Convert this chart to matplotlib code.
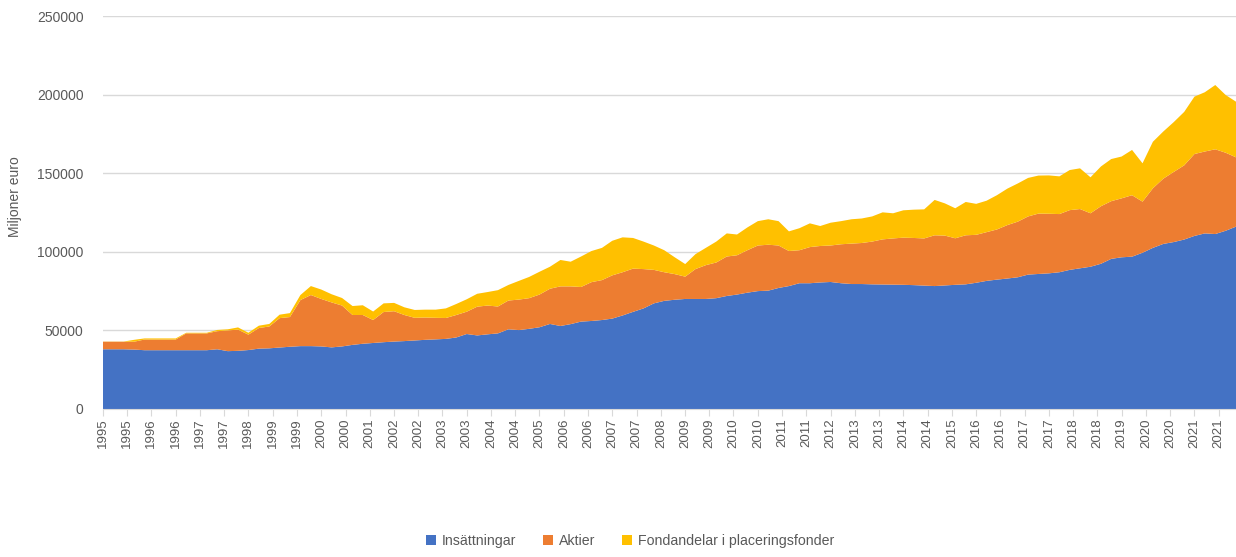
import numpy as np
import pandas as pd
import matplotlib
matplotlib.use("Agg")
import matplotlib.pyplot as plt

####################################
# Data (quarterly, thousands of millions of euro)

start = "1995-01-01"

insattningar = [
    38.0, 38.0, 38.0, 37.8, 37.4, 37.4, 37.4, 37.4, 37.4, 37.4,
    37.4, 38.0, 36.8, 37.0, 37.5, 38.4, 38.6, 39.1, 39.6, 40.0,
    40.0, 39.8, 39.2, 39.8, 40.8, 41.5, 42.0, 42.5, 42.9, 43.2,
    43.6, 44.0, 44.3, 44.6, 45.5, 47.7, 46.8, 47.5, 48.1, 50.7,
    50.2, 51.0, 52.0, 54.1, 52.8, 54.0, 55.6, 56.0, 56.6, 57.5,
    59.5, 61.8, 64.0, 67.2, 68.8, 69.5, 70.0, 70.0, 70.0, 70.5,
    71.9, 72.8, 74.0, 75.0, 75.3, 77.0, 78.2, 80.0, 80.0, 80.5,
    80.8, 80.0, 79.5, 79.5, 79.3, 79.2, 79.1, 79.0, 78.8, 78.5,
    78.2, 78.6, 79.0, 79.3, 80.3, 81.5, 82.3, 83.0, 83.8, 85.5,
    85.9, 86.3, 87.0, 88.5, 89.5, 90.5, 92.4, 95.5, 96.5, 96.9,
    99.4, 102.5, 105.0, 106.2, 107.8, 110.1, 111.7, 111.3, 113.4, 116.0,
]

aktier = [
    4.8, 4.8, 4.8, 5.0, 6.8, 6.8, 6.8, 6.8, 10.7, 10.7,
    10.7, 11.5, 13.2, 13.5, 9.8, 13.1, 13.9, 18.7, 18.9, 29.3,
    32.5, 30.2, 28.6, 26.0, 19.0, 18.3, 14.6, 19.2, 19.3, 16.6,
    14.4, 14.2, 13.7, 13.3, 14.3, 14.2, 18.3, 18.3, 17.1, 18.3,
    19.4, 19.5, 20.8, 22.4, 25.2, 24.0, 22.0, 24.7, 25.4, 27.5,
    27.5, 27.5, 25.0, 21.3, 18.2, 16.3, 14.2, 19.0, 21.5, 22.7,
    25.1, 25.0, 27.0, 29.0, 29.2, 27.0, 22.3, 21.0, 23.0, 23.2,
    23.2, 24.8, 25.7, 26.1, 27.2, 28.7, 29.4, 30.0, 30.0, 30.0,
    32.3, 31.7, 29.6, 31.2, 30.5, 31.0, 31.9, 34.0, 35.4, 37.0,
    38.4, 37.9, 37.0, 38.0, 37.7, 34.0, 36.6, 36.7, 37.5, 39.1,
    32.5, 37.9, 41.5, 44.6, 47.2, 52.1, 52.1, 53.9, 49.6, 44.1,
]

fonder = [
    0.1, 0.1, 0.1, 1.2, 0.7, 0.7, 0.7, 0.7, 0.4, 0.4,
    0.4, 0.8, 0.7, 1.4, 1.2, 1.5, 1.6, 2.2, 2.5, 3.2,
    5.7, 6.0, 5.2, 4.8, 5.7, 6.2, 5.4, 5.5, 5.3, 4.9,
    5.0, 5.0, 5.2, 6.1, 7.0, 7.9, 8.2, 8.6, 10.4, 9.9,
    11.9, 13.5, 14.5, 14.0, 16.8, 15.7, 19.4, 19.8, 20.5, 22.0,
    22.2, 19.5, 17.5, 15.5, 14.0, 10.7, 8.0, 9.5, 11.0, 13.3,
    14.7, 13.2, 14.5, 15.5, 16.2, 15.5, 12.5, 14.0, 15.1, 12.7,
    14.5, 14.7, 15.5, 15.6, 16.0, 17.2, 16.0, 17.4, 18.0, 18.5,
    22.5, 20.5, 19.1, 21.2, 19.7, 20.0, 21.8, 23.2, 24.3, 24.5,
    24.2, 24.4, 24.0, 25.5, 25.9, 22.9, 25.3, 26.8, 26.6, 28.8,
    24.4, 29.6, 30.0, 31.7, 34.0, 36.5, 37.7, 40.9, 36.7, 35.4,
]

labels = ["Insättningar", "Aktier", "Fondandelar i placeringsfonder"]
colors = ["#4472C4", "#ED7D31", "#FFC000"]

# x-axis labels every 7 months, as in the original
tick_dates = pd.date_range(start, periods=47, freq="7MS")

####################################
# Plot

dates = pd.date_range(start, periods=len(insattningar), freq="QS")
y = np.array([insattningar, aktier, fonder]) * 1000

plt.rcParams["font.family"] = ["Liberation Sans", "DejaVu Sans"]

fig = plt.figure(figsize=(12.36, 5.57), dpi=100)
ax = fig.add_axes([103 / 1236, 1 - 409 / 557, 1 - 103 / 1236, (409 - 16) / 557])

ax.stackplot(dates, y, colors=colors, labels=labels, linewidth=0)

ax.set_xlim(dates[0], dates[-1])
ax.set_ylim(0, 250000)
ax.set_yticks(np.arange(0, 250001, 50000))
ax.grid(axis="y", color="#D9D9D9", linewidth=1)
ax.set_axisbelow(True)

ax.set_xticks(tick_dates)
ax.set_xticklabels([str(d.year) for d in tick_dates], rotation=90)

for s in ["top", "right", "left"]:
    ax.spines[s].set_visible(False)
ax.spines["bottom"].set_color("#D9D9D9")

ax.tick_params(axis="y", length=0, pad=14, labelsize=10, labelcolor="#595959")
ax.tick_params(axis="x", length=5, color="#D9D9D9", pad=2, labelsize=9.5, labelcolor="#595959")

fig.text(15 / 1236, 1 - 197 / 557, "Miljoner euro", rotation=90, ha="center", va="center",
         fontsize=10, color="#595959")

fig.legend(loc="center", bbox_to_anchor=(630 / 1236, 1 - 541 / 557), ncol=3, frameon=False,
           fontsize=10.2, handlelength=0.7, handleheight=0.7, handletextpad=0.4,
           columnspacing=1.9, labelcolor="#595959")

fig.savefig("out.png", dpi=100)
